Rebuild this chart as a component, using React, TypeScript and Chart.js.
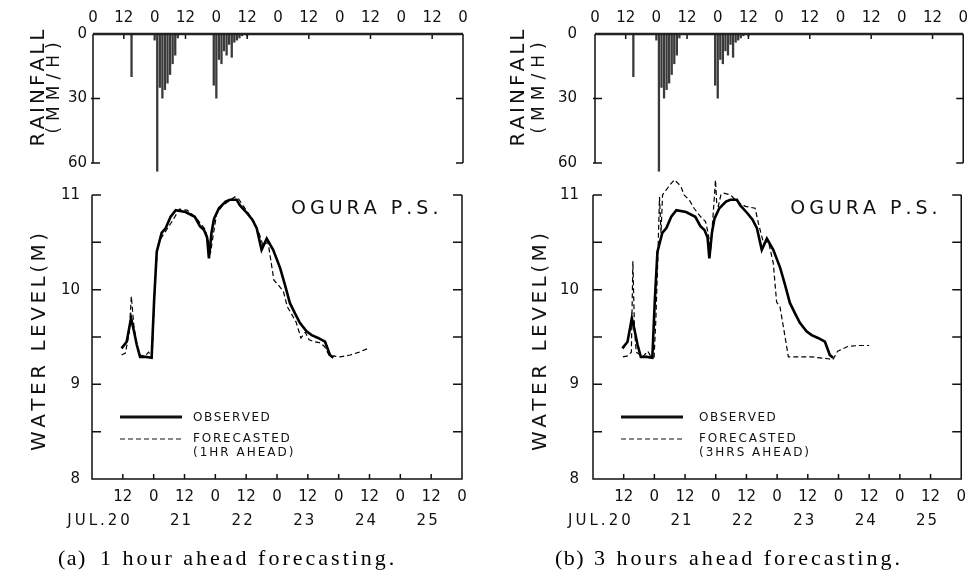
import React, { useEffect, useRef } from "react";
import { Chart, registerables } from "chart.js";

Chart.register(...registerables);

const PAGE_W = 975;
const PAGE_H = 577;

// ---------------- data ----------------
const rainHours = [15, 24, 25, 26, 27, 28, 29, 30, 31, 32, 33, 47, 48, 49, 50, 51, 52, 53, 54, 55, 56, 57, 58, 60];
const rainMM = [20, 3, 64, 25, 30, 26, 23, 19, 14, 10, 2, 24, 30, 12, 14, 8, 10, 5, 11, 4, 3, 2, 1, 1];

const obsHours = [11.5, 13.5, 15.2, 16.2, 17.4, 18.7, 21, 23.2, 24.2, 25.2, 27.1, 28.7, 30.6, 32.6, 36.4, 40, 42, 43.6, 44.8, 45.5, 46.5, 47.5, 49.4, 52, 53.7, 56.3, 57.6, 60.3, 62.4, 64.1, 66, 68, 70.5, 73.2, 75.1, 77, 79, 80.9, 83.5, 85.5, 88, 90.7, 92.6, 93.9];
const obsLevel = [9.38, 9.45, 9.7, 9.58, 9.42, 9.29, 9.29, 9.28, 9.9, 10.4, 10.6, 10.65, 10.77, 10.84, 10.82, 10.77, 10.67, 10.63, 10.55, 10.33, 10.6, 10.75, 10.86, 10.93, 10.95, 10.95, 10.89, 10.81, 10.74, 10.65, 10.42, 10.54, 10.42, 10.23, 10.05, 9.86, 9.75, 9.65, 9.56, 9.52, 9.49, 9.45, 9.31, 9.28];

const fc1Hours = [11.5, 13, 14.5, 15.3, 16.3, 17.5, 19, 21, 22, 23.4, 24.6, 25.5, 27, 29, 31.6, 34, 37, 40.5, 42.5, 44, 45.2, 46.2, 47.2, 48.5, 50.5, 53, 55.5, 57, 59, 61, 63, 65, 66.5, 68.5, 70.8, 72.5, 74.5, 76, 77.5, 79.4, 81.3, 83, 84.5, 86.4, 88.5, 90.5, 92.6, 94, 96.6, 100.5, 104, 107.5];
const fc1Level = [9.31, 9.33, 9.55, 9.93, 9.62, 9.4, 9.3, 9.31, 9.34, 9.29, 10.1, 10.45, 10.55, 10.63, 10.74, 10.85, 10.84, 10.76, 10.69, 10.64, 10.52, 10.4, 10.58, 10.8, 10.88, 10.93, 10.98, 10.96, 10.88, 10.8, 10.72, 10.6, 10.47, 10.5, 10.1, 10.05, 9.98, 9.82, 9.75, 9.66, 9.49, 9.55, 9.47, 9.45, 9.44, 9.4, 9.29, 9.3, 9.29, 9.31, 9.34, 9.38];

const fc3Hours = [11.7, 13.5, 15.0, 15.6, 16.2, 16.9, 19.5, 21.4, 22.5, 23.9, 24.6, 25.3, 26, 26.6, 27.2, 28.5, 30.5, 31.8, 33, 34.4, 35.6, 37.6, 39.5, 42.1, 44, 45, 46, 47, 47.9, 48.4, 49, 50, 51.2, 53.8, 56.3, 59.6, 61.5, 63.4, 64.7, 66.7, 68.6, 70.5, 71.8, 73.1, 74.5, 76.4, 80, 85.4, 91.9, 93.8, 95.7, 99.6, 104, 108];
const fc3Level = [9.29, 9.3, 9.34, 10.3, 9.6, 9.34, 9.29, 9.35, 9.3, 9.29, 9.7, 10.28, 10.98, 10.6, 11.0, 11.05, 11.12, 11.16, 11.13, 11.09, 11.0, 10.95, 10.86, 10.77, 10.72, 10.6, 10.42, 10.8, 11.16, 10.9, 10.88, 11.0, 11.02, 11.0, 10.93, 10.88, 10.87, 10.86, 10.7, 10.49, 10.51, 10.28, 9.87, 9.82, 9.6, 9.29, 9.29, 9.29, 9.27, 9.26, 9.35, 9.4, 9.41, 9.41];

const hourTicks = [0, 12, 24, 36, 48, 60, 72, 84, 96, 108, 120, 132, 144];
const topHourLabels = ["0", "12", "0", "12", "0", "12", "0", "12", "0", "12", "0", "12", "0"];
const bottomHourLabels = ["", "12", "0", "12", "0", "12", "0", "12", "0", "12", "0", "12", "0"];
const dateTicks = [12, 36, 60, 84, 108, 132];
const dateLabels = ["JUL.20", "21", "22", "23", "24", "25"];
const rainTicks = [0, 30, 60];
const rainLabels = ["0", "30", "60"];
const rainMarks = [30, 60];
const levelTicks = [8, 9, 10, 11];
const levelLabels = ["8", "9", "10", "11"];
const levelMarks = [8.5, 9, 9.5, 10, 10.5, 11];
const stationName = "OGURA P.S.";
const observedLabel = "OBSERVED";
const forecastLabels1 = ["FORECASTED", "(1HR AHEAD)"];
const forecastLabels3 = ["FORECASTED", "(3HRS AHEAD)"];
const captionA = ["(a)", "1 hour ahead forecasting."];
const captionB = ["(b)", "3 hours ahead forecasting."];
const rainTitle = ["RAINFALL", "(MM/H)"];
const waterTitle = "WATER LEVEL(M)";

// ---------------- layout ----------------
const LAYOUT = [
  {
    rain: { l: 93, r: 463, t: 34, b: 163, pad: 6 },
    water: { l: 92, r: 462, t: 195, b: 479, pad: 12 },
    rainTitleX: 39, rainUnitX: 55, waterTitleX: 40, legendDx: 101, capX: [58, 100],
  },
  {
    rain: { l: 595, r: 966, t: 34, b: 163, pad: 18 },
    water: { l: 593, r: 963, t: 195, b: 479, pad: 14 },
    rainTitleX: 519, rainUnitX: 540, waterTitleX: 541, legendDx: 106, capX: [555, 594],
  },
];

const FONT = "DejaVu Sans";
const INK = "#111";
const AXIS_W = 60;
const AXIS_H = 30;

function spaced(ctx: CanvasRenderingContext2D, text: string, x: number, y: number, sp: number, align: "left" | "center" | "right") {
  const chars = Array.from(text);
  const widths = chars.map((c) => ctx.measureText(c).width);
  const total = widths.reduce((a, b) => a + b, 0) + sp * (chars.length - 1);
  let cx = align === "center" ? x - total / 2 : align === "right" ? x - total : x;
  ctx.textAlign = "left";
  chars.forEach((c, i) => {
    ctx.fillText(c, cx, y);
    cx += widths[i] + sp;
  });
}

function rotated(ctx: CanvasRenderingContext2D, text: string, x: number, y: number, sp: number) {
  ctx.save();
  ctx.translate(x, y);
  ctx.rotate(-Math.PI / 2);
  ctx.textBaseline = "middle";
  spaced(ctx, text, 0, 0, sp, "center");
  ctx.restore();
}

function makeRain(canvas: HTMLCanvasElement, cfg: any) {
  const g = cfg.rain;
  const framePlugin = {
    id: "rainFrame",
    afterDraw(chart: any) {
      const { ctx, chartArea: ca, scales } = chart;
      const xs = scales.x, ys = scales.y;
      ctx.save();
      ctx.strokeStyle = INK;
      ctx.lineWidth = 1.5;
      ctx.beginPath();
      ctx.moveTo(ca.left, ca.bottom);
      ctx.lineTo(ca.left, ca.top);
      ctx.moveTo(ca.right, ca.top);
      ctx.lineTo(ca.right, ca.bottom);
      rainMarks.forEach((v) => {
        const py = ys.getPixelForValue(v);
        ctx.moveTo(ca.left - 2, py);
        ctx.lineTo(ca.left + 7, py);
        ctx.moveTo(ca.right - 7, py);
        ctx.lineTo(ca.right, py);
      });
      dateTicks.forEach((h) => {
        const px = xs.getPixelForValue(h);
        ctx.moveTo(px, ca.top);
        ctx.lineTo(px, ca.top + 5);
      });
      ctx.stroke();
      ctx.lineWidth = 2.5;
      ctx.strokeStyle = "#222";
      ctx.beginPath();
      ctx.moveTo(ca.left, ca.top);
      ctx.lineTo(ca.right, ca.top);
      ctx.stroke();
      ctx.fillStyle = INK;
      ctx.font = `20px "${FONT}"`;
      rotated(ctx, rainTitle[0], cfg.rainTitleX, 88, 3);
      ctx.font = `17px "${FONT}"`;
      rotated(ctx, rainTitle[1], cfg.rainUnitX, 88, 6);
      ctx.restore();
    },
  };
  return new Chart(canvas, {
    type: "bar",
    data: {
      datasets: [
        {
          data: rainHours.map((h, i) => ({ x: h, y: rainMM[i] })),
          backgroundColor: "#3a3a3a",
          borderWidth: 0,
          barPercentage: 0.9,
          categoryPercentage: 1,
          clip: false as any,
        } as any,
      ],
    },
    options: {
      responsive: false,
      animation: false,
      layout: { padding: { left: g.l - AXIS_W, right: PAGE_W - g.r, top: g.t - AXIS_H, bottom: PAGE_H - g.b } },
      plugins: { legend: { display: false }, tooltip: { enabled: false } },
      scales: {
        x: {
          type: "linear",
          position: "top",
          min: 0,
          max: 144,
          offset: false,
          afterBuildTicks: (s: any) => { s.ticks = hourTicks.map((v) => ({ value: v })); },
          afterFit: (s: any) => { s.height = AXIS_H; },
          grid: { display: false, drawTicks: false },
          border: { display: false },
          ticks: {
            autoSkip: false, maxRotation: 0, padding: 7, color: INK,
            font: { family: FONT, size: 15 },
            callback: (_v: any, i: number) => topHourLabels[i],
          },
        },
        y: {
          type: "linear",
          min: 0,
          max: 60,
          reverse: true,
          afterBuildTicks: (s: any) => { s.ticks = rainTicks.map((v) => ({ value: v })); },
          afterFit: (s: any) => { s.width = AXIS_W; },
          grid: { display: false, drawTicks: false },
          border: { display: false },
          ticks: {
            padding: g.pad, color: INK,
            font: { family: FONT, size: 15 },
            callback: (_v: any, i: number) => rainLabels[i],
          },
        },
      },
    } as any,
    plugins: [framePlugin],
  });
}

function makeWater(canvas: HTMLCanvasElement, cfg: any, fcH: number[], fcL: number[], fcLabels: string[], caption: string[]) {
  const g = cfg.water;
  const framePlugin = {
    id: "waterFrame",
    afterDraw(chart: any) {
      const { ctx, chartArea: ca, scales } = chart;
      const xs = scales.x, ys = scales.y;
      ctx.save();
      ctx.strokeStyle = INK;
      ctx.lineWidth = 1.5;
      ctx.beginPath();
      ctx.moveTo(ca.left, ca.top);
      ctx.lineTo(ca.left, ca.bottom);
      ctx.lineTo(ca.right, ca.bottom);
      ctx.lineTo(ca.right, ca.top);
      levelMarks.forEach((v) => {
        const py = ys.getPixelForValue(v);
        ctx.moveTo(ca.left, py);
        ctx.lineTo(ca.left + 9, py);
        ctx.moveTo(ca.right - 9, py);
        ctx.lineTo(ca.right, py);
      });
      hourTicks.slice(1, -1).forEach((h) => {
        const px = xs.getPixelForValue(h);
        ctx.moveTo(px, ca.bottom);
        ctx.lineTo(px, ca.bottom - 5);
      });
      ctx.stroke();

      // legend
      const lx0 = ca.left + 28, lx1 = ca.left + 90;
      const y1 = ca.top + 222, y2 = ca.top + 244;
      ctx.lineWidth = 3;
      ctx.beginPath();
      ctx.moveTo(lx0, y1);
      ctx.lineTo(lx1, y1);
      ctx.stroke();
      ctx.lineWidth = 1.2;
      ctx.setLineDash([5, 3]);
      ctx.beginPath();
      ctx.moveTo(lx0, y2);
      ctx.lineTo(lx1, y2);
      ctx.stroke();
      ctx.setLineDash([]);
      ctx.fillStyle = INK;
      ctx.textBaseline = "middle";
      ctx.font = `12px "${FONT}"`;
      const tx = ca.left + cfg.legendDx;
      spaced(ctx, observedLabel, tx, y1 + 1, 1.5, "left");
      spaced(ctx, fcLabels[0], tx, y2, 1.8, "left");
      spaced(ctx, fcLabels[1], tx, y2 + 14, 2, "left");

      // station name
      ctx.font = `19px "${FONT}"`;
      spaced(ctx, stationName, ca.right - 171, ca.top + 14, 4, "left");

      // y title
      ctx.font = `20px "${FONT}"`;
      rotated(ctx, waterTitle, cfg.waterTitleX, 342, 3.5);

      // date row
      ctx.font = `15px "${FONT}"`;
      ctx.textBaseline = "middle";
      dateTicks.forEach((h, i) => {
        const px = xs.getPixelForValue(h) - 4;
        const lab = dateLabels[i];
        if (i === 0) {
          const w20 = ctx.measureText("20").width + 3;
          spaced(ctx, lab, px + w20 / 2, 521, 3, "right");
        } else {
          spaced(ctx, lab, px, 521, 2, "center");
        }
      });

      // caption
      ctx.font = `22px "Liberation Serif"`;
      ctx.fillStyle = "#000";
      spaced(ctx, caption[0], cfg.capX[0], 559, 1.5, "left");
      spaced(ctx, caption[1], cfg.capX[1], 559, 3, "left");
      ctx.restore();
    },
  };
  return new Chart(canvas, {
    type: "line",
    data: {
      datasets: [
        {
          data: obsHours.map((h, i) => ({ x: h, y: obsLevel[i] })),
          borderColor: "#000",
          borderWidth: 2.6,
          pointRadius: 0,
          fill: false,
          tension: 0,
          clip: false as any,
        } as any,
        {
          data: fcH.map((h, i) => ({ x: h, y: fcL[i] })),
          borderColor: "#000",
          borderWidth: 1.2,
          borderDash: [5, 3],
          pointRadius: 0,
          fill: false,
          tension: 0,
          clip: false as any,
        } as any,
      ],
    },
    options: {
      responsive: false,
      animation: false,
      layout: { padding: { left: g.l - AXIS_W, right: PAGE_W - g.r, top: g.t, bottom: PAGE_H - g.b - AXIS_H } },
      plugins: { legend: { display: false }, tooltip: { enabled: false } },
      scales: {
        x: {
          type: "linear",
          position: "bottom",
          min: 0,
          max: 144,
          offset: false,
          afterBuildTicks: (s: any) => { s.ticks = hourTicks.map((v) => ({ value: v })); },
          afterFit: (s: any) => { s.height = AXIS_H; },
          grid: { display: false, drawTicks: false },
          border: { display: false },
          ticks: {
            autoSkip: false, maxRotation: 0, padding: 9, color: INK,
            font: { family: FONT, size: 15 },
            callback: (_v: any, i: number) => bottomHourLabels[i],
          },
        },
        y: {
          type: "linear",
          min: 8,
          max: 11,
          afterBuildTicks: (s: any) => { s.ticks = levelTicks.map((v) => ({ value: v })); },
          afterFit: (s: any) => { s.width = AXIS_W; },
          grid: { display: false, drawTicks: false },
          border: { display: false },
          ticks: {
            padding: g.pad, color: INK,
            font: { family: FONT, size: 15 },
            callback: (_v: any, i: number) => levelLabels[i],
          },
        },
      },
    } as any,
    plugins: [framePlugin],
  });
}

export default function App() {
  const r0 = useRef<HTMLCanvasElement>(null);
  const r1 = useRef<HTMLCanvasElement>(null);
  const r2 = useRef<HTMLCanvasElement>(null);
  const r3 = useRef<HTMLCanvasElement>(null);

  useEffect(() => {
    const charts = [
      makeRain(r0.current!, LAYOUT[0]),
      makeWater(r1.current!, LAYOUT[0], fc1Hours, fc1Level, forecastLabels1, captionA),
      makeRain(r2.current!, LAYOUT[1]),
      makeWater(r3.current!, LAYOUT[1], fc3Hours, fc3Level, forecastLabels3, captionB),
    ];
    return () => charts.forEach((c) => c.destroy());
  }, []);

  const cs: React.CSSProperties = { position: "absolute", left: 0, top: 0, width: PAGE_W, height: PAGE_H };
  return (
    <div style={{ position: "fixed", left: 0, top: 0, width: PAGE_W, height: PAGE_H, background: "#fff" }}>
      <canvas ref={r0} width={PAGE_W} height={PAGE_H} style={cs} />
      <canvas ref={r1} width={PAGE_W} height={PAGE_H} style={cs} />
      <canvas ref={r2} width={PAGE_W} height={PAGE_H} style={cs} />
      <canvas ref={r3} width={PAGE_W} height={PAGE_H} style={cs} />
    </div>
  );
}
